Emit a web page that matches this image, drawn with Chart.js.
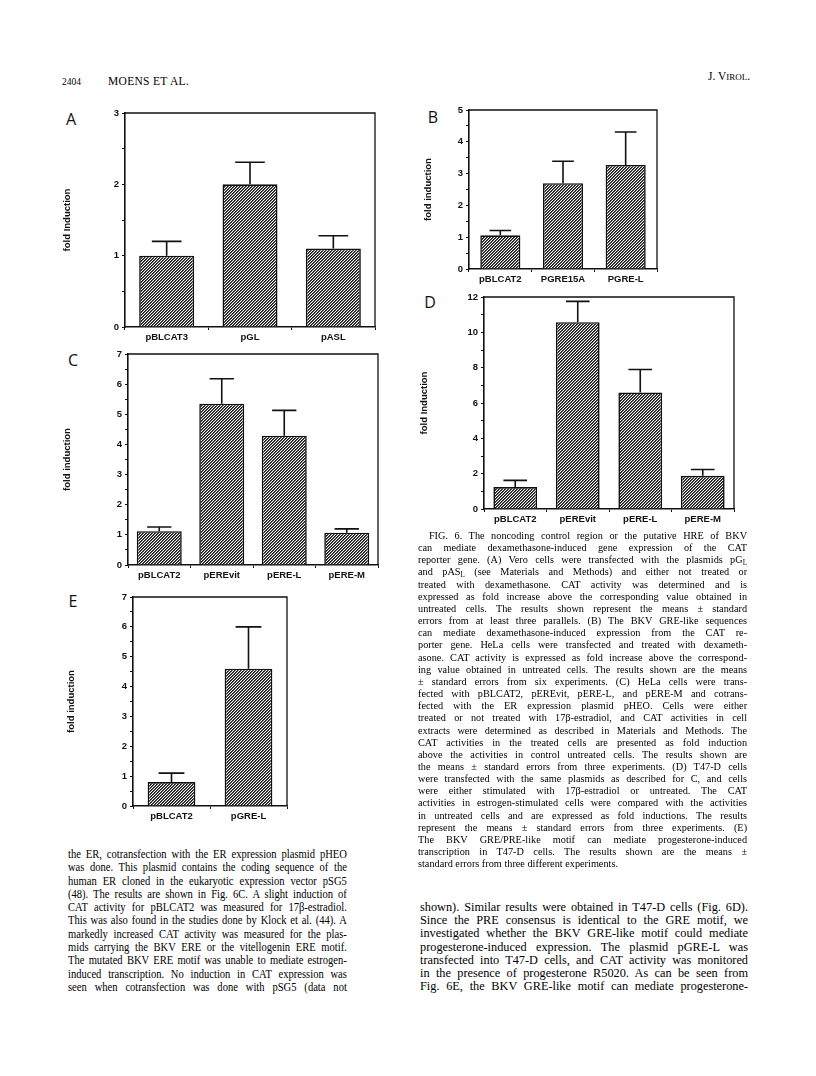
<!DOCTYPE html>
<html>
<head>
<meta charset="utf-8">
<script src="https://cdn.jsdelivr.net/npm/chart.js@4.4.0/dist/chart.umd.min.js"></script>
<style>
  body { margin: 0; background: #fff; width: 816px; height: 1076px; position: relative; overflow: hidden;
         font-family: "Liberation Serif", serif; color: #000; }
  .panel { position: absolute; }
  .letter { position: absolute; font-family: "Open Sans", sans-serif; font-size: 16px; line-height: 1;
            transform: translate(-50%, -50%); color: #111; }
  .head { position: absolute; white-space: nowrap; line-height: 1; }
  .col { position: absolute; transform-origin: 0 0; }
  .col div { white-space: nowrap; text-align: justify; text-align-last: justify; }
  .col div.end { text-align-last: left; }
  sub { font-size: 70%; vertical-align: -2px; line-height: 0; }
</style>
</head>
<body>

<div class="head" style="left:62px;top:78px;font-size:9.5px;">2404</div>
<div class="head" style="left:108px;top:76px;font-size:11.5px;letter-spacing:0.3px;">MOENS ET AL.</div>
<div class="head" style="left:708px;top:71px;font-size:11.5px;">J. V<span style="font-size:9px">IROL</span>.</div>

<div class="letter" style="left:71px;top:119px;">A</div>
<div class="letter" style="left:433px;top:117px;">B</div>
<div class="letter" style="left:73px;top:360px;">C</div>
<div class="letter" style="left:430px;top:302px;">D</div>
<div class="letter" style="left:73px;top:601px;">E</div>

<div class="panel" id="boxA"><canvas id="chartA"></canvas></div>
<div class="panel" id="boxB"><canvas id="chartB"></canvas></div>
<div class="panel" id="boxC"><canvas id="chartC"></canvas></div>
<div class="panel" id="boxD"><canvas id="chartD"></canvas></div>
<div class="panel" id="boxE"><canvas id="chartE"></canvas></div>

<!-- figure legend -->
<div class="col" style="left:418px;top:529px;width:362px;font-size:11.3px;line-height:12.15px;transform:scaleX(0.909);">
  <div style="padding-left:12px">FIG. 6. The noncoding control region or the putative HRE of BKV</div>
  <div>can mediate dexamethasone-induced gene expression of the CAT</div>
  <div>reporter gene. (A) Vero cells were transfected with the plasmids pG<sub>L</sub></div>
  <div>and pAS<sub>L</sub> (see Materials and Methods) and either not treated or</div>
  <div>treated with dexamethasone. CAT activity was determined and is</div>
  <div>expressed as fold increase above the corresponding value obtained in</div>
  <div>untreated cells. The results shown represent the means ± standard</div>
  <div>errors from at least three parallels. (B) The BKV GRE-like sequences</div>
  <div>can mediate dexamethasone-induced expression from the CAT re-</div>
  <div>porter gene. HeLa cells were transfected and treated with dexameth-</div>
  <div>asone. CAT activity is expressed as fold increase above the correspond-</div>
  <div>ing value obtained in untreated cells. The results shown are the means</div>
  <div>± standard errors from six experiments. (C) HeLa cells were trans-</div>
  <div>fected with pBLCAT2, pEREvit, pERE-L, and pERE-M and cotrans-</div>
  <div>fected with the ER expression plasmid pHEO. Cells were either</div>
  <div>treated or not treated with 17β-estradiol, and CAT activities in cell</div>
  <div>extracts were determined as described in Materials and Methods. The</div>
  <div>CAT activities in the treated cells are presented as fold induction</div>
  <div>above the activities in control untreated cells. The results shown are</div>
  <div>the means ± standard errors from three experiments. (D) T47-D cells</div>
  <div>were transfected with the same plasmids as described for C, and cells</div>
  <div>were either stimulated with 17β-estradiol or untreated. The CAT</div>
  <div>activities in estrogen-stimulated cells were compared with the activities</div>
  <div>in untreated cells and are expressed as fold inductions. The results</div>
  <div>represent the means ± standard errors from three experiments. (E)</div>
  <div>The BKV GRE/PRE-like motif can mediate progesterone-induced</div>
  <div>transcription in T47-D cells. The results shown are the means ±</div>
  <div class="end">standard errors from three different experiments.</div>
</div>

<!-- body text, left column -->
<div class="col" style="left:68px;top:848px;width:325px;font-size:12.3px;line-height:13.3px;transform:scaleX(0.858);">
  <div>the ER, cotransfection with the ER expression plasmid pHEO</div>
  <div>was done. This plasmid contains the coding sequence of the</div>
  <div>human ER cloned in the eukaryotic expression vector pSG5</div>
  <div>(48). The results are shown in Fig. 6C. A slight induction of</div>
  <div>CAT activity for pBLCAT2 was measured for 17β-estradiol.</div>
  <div>This was also found in the studies done by Klock et al. (44). A</div>
  <div>markedly increased CAT activity was measured for the plas-</div>
  <div>mids carrying the BKV ERE or the vitellogenin ERE motif.</div>
  <div>The mutated BKV ERE motif was unable to mediate estrogen-</div>
  <div>induced transcription. No induction in CAT expression was</div>
  <div>seen when cotransfection was done with pSG5 (data not</div>
</div>

<!-- body text, right column -->
<div class="col" style="left:420px;top:901px;width:328px;font-size:12.3px;line-height:13.2px;">
  <div>shown). Similar results were obtained in T47-D cells (Fig. 6D).</div>
  <div>Since the PRE consensus is identical to the GRE motif, we</div>
  <div>investigated whether the BKV GRE-like motif could mediate</div>
  <div>progesterone-induced expression. The plasmid pGRE-L was</div>
  <div>transfected into T47-D cells, and CAT activity was monitored</div>
  <div>in the presence of progesterone R5020. As can be seen from</div>
  <div>Fig. 6E, the BKV GRE-like motif can mediate progesterone-</div>
</div>

<script>
// Panel A - Vero cells, dexamethasone
const catsA = ["pBLCAT3", "pGL", "pASL"];
const valsA = [1.0, 2.0, 1.1];
const errsA = [1.2, 2.31, 1.28];

// Panel B - HeLa cells, dexamethasone
const catsB = ["pBLCAT2", "PGRE15A", "PGRE-L"];
const valsB = [1.06, 2.7, 3.27];
const errsB = [1.21, 3.39, 4.31];

// Panel C - HeLa cells, 17b-estradiol
const catsC = ["pBLCAT2", "pEREvit", "pERE-L", "pERE-M"];
const valsC = [1.12, 5.35, 4.29, 1.07];
const errsC = [1.26, 6.18, 5.13, 1.2];

// Panel D - T47-D cells, 17b-estradiol
const catsD = ["pBLCAT2", "pEREvit", "pERE-L", "pERE-M"];
const valsD = [1.24, 10.57, 6.6, 1.88];
const errsD = [1.62, 11.75, 7.9, 2.24];

// Panel E - T47-D cells, progesterone
const catsE = ["pBLCAT2", "pGRE-L"];
const valsE = [0.8, 4.6];
const errsE = [1.1, 6.0];

const inkColor = "#111";
const tickFont = { family: "Liberation Sans", size: 9.5, weight: "bold" };

// Diagonal hatching used for every bar
function makeHatch() {
  const c = document.createElement("canvas");
  c.width = 3; c.height = 3;
  const g = c.getContext("2d");
  g.fillStyle = "#fff";
  g.fillRect(0, 0, 3, 3);
  for (let i = 0; i < 3; i++) {
    g.fillStyle = "#151515";
    g.fillRect(2 - i, i, 1, 1);
    g.fillStyle = "#555";
    g.fillRect((3 - i) % 3, i, 1, 1);
  }
  return g.createPattern(c, "repeat");
}

// Draws the upper error bar above each bar
const errorBars = {
  id: "errorBars",
  afterDatasetsDraw(chart) {
    const ctx = chart.ctx;
    const yScale = chart.scales.y;
    const ds = chart.data.datasets[0];
    chart.getDatasetMeta(0).data.forEach((bar, i) => {
      const yTop = yScale.getPixelForValue(ds.errTops[i]);
      const half = bar.width * 0.27;
      ctx.save();
      ctx.strokeStyle = inkColor;
      ctx.lineWidth = 1.6;
      ctx.beginPath();
      ctx.moveTo(bar.x, bar.y);
      ctx.lineTo(bar.x, yTop);
      ctx.moveTo(bar.x - half, yTop);
      ctx.lineTo(bar.x + half, yTop);
      ctx.stroke();
      ctx.restore();
    });
  }
};

// Closes the plot box on the top and right
const frameBox = {
  id: "frameBox",
  afterDraw(chart) {
    const { ctx, chartArea: a } = chart;
    ctx.save();
    ctx.strokeStyle = inkColor;
    ctx.lineWidth = 1.3;
    ctx.beginPath();
    ctx.moveTo(a.left, a.top);
    ctx.lineTo(a.right, a.top);
    ctx.lineTo(a.right, a.bottom);
    ctx.stroke();
    ctx.restore();
  }
};

// Function to create one panel; box gives the plot area on the page
function createPanel(id, labels, values, errTops, yMax, step, major, title, barPct, box) {
  const padTop = 10, xHeight = 22, padRight = 6;
  const left = Math.round(box.titleX - 5.7);
  const top = box.top - padTop;
  const width = box.right + padRight - left;
  const height = box.bottom + xHeight - top;

  const holder = document.getElementById("box" + id);
  holder.style.left = left + "px";
  holder.style.top = top + "px";
  const canvas = document.getElementById("chart" + id);
  canvas.width = width;
  canvas.height = height;

  new Chart(canvas.getContext("2d"), {
    type: "bar",
    data: {
      labels: labels,
      datasets: [{
        data: values,
        errTops: errTops,
        backgroundColor: makeHatch(),
        borderColor: inkColor,
        borderWidth: 1.6,
        barPercentage: barPct,
        categoryPercentage: 1
      }]
    },
    options: {
      responsive: false,
      animation: false,
      devicePixelRatio: 1,
      layout: { padding: { top: padTop, right: padRight, left: 0, bottom: 0 } },
      plugins: { legend: { display: false }, tooltip: { enabled: false } },
      scales: {
        x: {
          afterFit: s => { s.height = xHeight; },
          border: { display: true, color: inkColor, width: 1.6 },
          grid: { display: true, drawOnChartArea: false, drawTicks: true, tickLength: 3, offset: true, color: inkColor, lineWidth: 1 },
          ticks: { font: tickFont, color: inkColor, padding: 2, maxRotation: 0, autoSkip: false }
        },
        y: {
          min: 0,
          max: yMax,
          afterFit: s => { s.width = box.left - left; },
          border: { display: true, color: inkColor, width: 1.6 },
          grid: { display: true, drawOnChartArea: false, drawTicks: true, tickLength: 3, color: inkColor, lineWidth: 1 },
          ticks: {
            stepSize: step,
            font: tickFont,
            color: inkColor,
            padding: 3,
            callback: v => (Math.abs(v / major - Math.round(v / major)) < 1e-6 ? v : "")
          },
          title: { display: true, text: title, font: tickFont, color: inkColor, padding: 0 }
        }
      }
    },
    plugins: [errorBars, frameBox]
  });
}

createPanel("A", catsA, valsA, errsA, 3, 0.5, 1, "fold Induction", 0.66,
  { titleX: 68, left: 125, top: 113, right: 375, bottom: 327 });
createPanel("B", catsB, valsB, errsB, 5, 0.5, 1, "fold induction", 0.64,
  { titleX: 429, left: 469, top: 110, right: 657, bottom: 269 });
createPanel("C", catsC, valsC, errsC, 7, 0.5, 1, "fold induction", 0.72,
  { titleX: 68, left: 128, top: 354, right: 378, bottom: 565 });
createPanel("D", catsD, valsD, errsD, 12, 1, 2, "fold Induction", 0.7,
  { titleX: 425, left: 484, top: 297, right: 734, bottom: 509 });
createPanel("E", catsE, valsE, errsE, 7, 0.5, 1, "fold induction", 0.62,
  { titleX: 72, left: 133, top: 597, right: 287, bottom: 806 });
</script>
</body>
</html>
